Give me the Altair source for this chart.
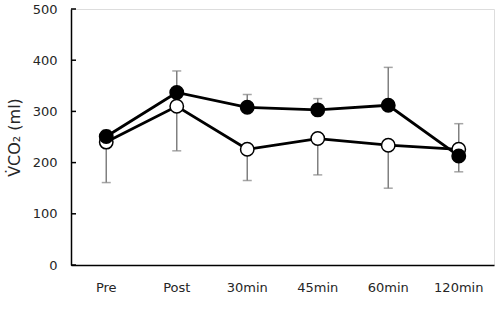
import altair as alt
import pandas as pd

categories = ["Pre", "Post", "30min", "45min", "60min", "120min"]
filled_mean = [251, 337, 308, 303, 312, 213]
filled_lo = [251, 337, 308, 303, 312, 182]
filled_hi = [263, 379, 333, 325, 386, 213]
open_mean = [240, 310, 226, 247, 234, 226]
open_lo = [161, 223, 165, 176, 150, 226]
open_hi = [240, 310, 226, 247, 234, 276]
y_ticks = [0, 100, 200, 300, 400, 500]

rows = []
for i, c in enumerate(categories):
    rows.append(dict(cat=c, grp="filled", m=filled_mean[i], lo=filled_lo[i], hi=filled_hi[i]))
    rows.append(dict(cat=c, grp="open", m=open_mean[i], lo=open_lo[i], hi=open_hi[i]))
df = pd.DataFrame(rows)
df_f = df[df.grp == "filled"]
df_o = df[df.grp == "open"]
df_t = pd.DataFrame({"m": y_ticks})

FONT = "DejaVu Sans"
x = alt.X("cat:N", sort=categories, title=None,
          scale=alt.Scale(paddingInner=0, paddingOuter=0),
          axis=alt.Axis(labelAngle=0, ticks=False, labelPadding=16, labelFontSize=13,
                        labelColor="#262626", labelFont=FONT, domainColor="#000", domainWidth=1.5))
y = alt.Y("m:Q", title="V\u0307CO\u2082  (ml)",
          scale=alt.Scale(domain=[0, 500], nice=False),
          axis=alt.Axis(values=y_ticks, grid=False, ticks=False,
                        domainColor="#000", domainWidth=1.5,
                        labelFontSize=13, labelColor="#262626", labelFont=FONT, labelPadding=14,
                        titleFont=FONT, titleFontSize=16, titleFontWeight="normal",
                        titleColor="#262626", titlePadding=10))

base = alt.Chart(df)

inner_ticks = alt.Chart(df_t).mark_rule(color="#000", strokeWidth=1.5).encode(
    x=alt.value(0), x2=alt.value(5), y=y)

err_rule = base.mark_rule(color="#808080", strokeWidth=1.5).encode(
    x=x, y=alt.Y("lo:Q"), y2="hi:Q")
err_cap_lo = base.transform_filter("datum.lo < datum.m").mark_tick(
    color="#808080", thickness=1.5, size=9, orient="horizontal").encode(x=x, y=alt.Y("lo:Q"))
err_cap_hi = base.transform_filter("datum.hi > datum.m").mark_tick(
    color="#808080", thickness=1.5, size=9, orient="horizontal").encode(x=x, y=alt.Y("hi:Q"))

line_o = alt.Chart(df_o).mark_line(color="#000", strokeWidth=2.8).encode(x=x, y=y)
line_f = alt.Chart(df_f).mark_line(color="#000", strokeWidth=2.8).encode(x=x, y=y)
pt_o = alt.Chart(df_o).mark_point(shape="circle", filled=True, fill="white", stroke="#000",
                                   strokeWidth=1.5, size=180, opacity=1).encode(x=x, y=y)
pt_f = alt.Chart(df_f).mark_point(shape="circle", filled=True, fill="#000", stroke="#000",
                                   strokeWidth=1.5, size=180, opacity=1).encode(x=x, y=y)

chart = alt.layer(inner_ticks, err_rule, err_cap_lo, err_cap_hi, line_o, line_f, pt_o, pt_f).properties(
    width=423, height=256,
    autosize=alt.AutoSizeParams(type="none"),
    padding={"left": 71, "top": 9, "right": 2, "bottom": 49},
).configure_view(stroke=None).configure(background="white")

chart.save("out.html", embed_options={"renderer": "svg", "actions": False})
